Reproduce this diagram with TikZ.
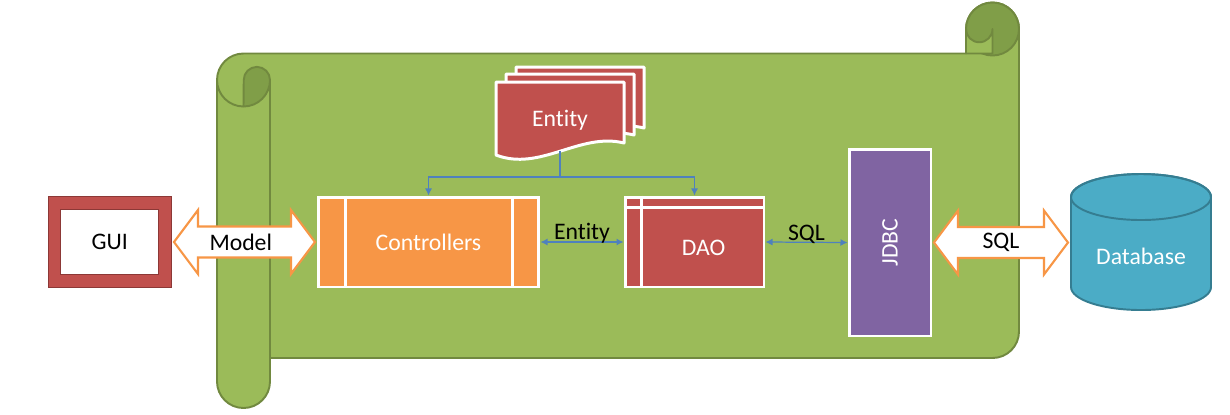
\documentclass[tikz,border=0pt]{standalone}
\usepackage{fontspec}
\setmainfont{Carlito}[Ligatures=NoCommon]
\usetikzlibrary{arrows.meta,calc}
\definecolor{ScrollFill}{HTML}{9BBB59}
\definecolor{ScrollDark}{HTML}{809E48}
\definecolor{ScrollLine}{HTML}{71893F}
\definecolor{AppRed}{HTML}{C0504D}
\definecolor{AppRedLine}{HTML}{8C3836}
\definecolor{AppOrange}{HTML}{F79646}
\definecolor{AppPurple}{HTML}{8064A2}
\definecolor{AppBlue}{HTML}{4BACC6}
\definecolor{AppBlueLine}{HTML}{357D91}
\definecolor{LinkBlue}{HTML}{4F81BD}

\tikzset{
  tag/.style={font=\fontsize{13.5}{16}\selectfont, inner sep=1pt},
  appbox/.style={draw=white, line width=1.7pt, minimum height=1.8cm, tag, text=white},
  divider/.style={draw=white, line width=1.7pt},
  scroll/.style={draw=ScrollLine, line width=1.1pt, line join=round},
  link/.style={draw=LinkBlue, line width=0.7pt},
  linktip/.style={link, {Latex[length=4pt,width=4pt]}-{Latex[length=4pt,width=4pt]}},
  fatline/.style={draw=AppOrange, fill=white, line width=1.2pt, line join=miter},
}
% wide two-headed arrow: tip point, shaft length
\newcommand\fatarrow[2]{%
  \path[fatline] #1 -- ++(24,-32) -- ++(0,16.5) -- ++(#2,0) -- ++(0,-16.5)
    -- ++(24,32) -- ++(-24,32) -- ++(0,-16.5) -- ++(-#2,0) -- ++(0,16.5) -- cycle;}

\begin{document}
\begin{tikzpicture}[x=0.02cm,y=-0.02cm]
\path[use as bounding box] (0,0) rectangle (1230,414);

% scroll
\path[scroll, fill=ScrollFill] (217,381.5) -- (217,80)
  arc[start angle=180, end angle=270, radius=26.5] -- (966,53.5) -- (966,29)
  arc[start angle=180, end angle=360, radius=26.5] -- (1019,331.5)
  arc[start angle=0, end angle=90, radius=26.5] -- (270,358) -- (270,381.5)
  arc[start angle=0, end angle=180, radius=26.5] -- cycle;
\path[scroll, fill=ScrollDark] (992.5,29) circle[radius=26.5];
\path[scroll, fill=ScrollFill] (966,29) arc[start angle=180, end angle=0, radius=13.25]
  -- (992.5,53.5) -- (966,53.5) -- cycle;
\path[scroll, fill=ScrollDark] (243.75,80) arc[start angle=180, end angle=360, radius=13.125]
  arc[start angle=0, end angle=90, radius=26.5] -- cycle;
\draw[scroll] (217,80) arc[start angle=180, end angle=90, radius=26.5];
\draw[scroll] (270,80) -- (270,358);

% entity sheets
\foreach \dx/\dy in {20/-15,10/-8,0/0}{
  \begin{scope}[shift={(\dx,\dy)}]
    \path[draw=white, line width=1.7pt, fill=AppRed, line join=round]
      (496,82) -- (624,82) -- (624,143) .. controls (580,132) and (540,172) .. (496,155) -- cycle;
  \end{scope}
}
\node[tag, text=white] (entity) at (560,120) {Entity};
\coordinate (entfoot) at (560,151);
\coordinate (split) at (560,177);

% boxes
\node[appbox, fill=AppOrange, minimum width=4.42cm] (ctrl) at (428.5,242) {Controllers};
\draw[divider] ([shift={(29,0)}]ctrl.north west) -- ([shift={(29,0)}]ctrl.south west);
\draw[divider] ([shift={(-28,0)}]ctrl.north east) -- ([shift={(-28,0)}]ctrl.south east);

\node[appbox, fill=AppRed, minimum width=2.78cm] (dao) at (694.5,242) {};
\draw[divider] ([shift={(18,0)}]dao.north west) -- ([shift={(18,0)}]dao.south west);
\draw[divider] ([shift={(0,12)}]dao.north west) -- ([shift={(0,12)}]dao.north east);
\node[tag, text=white] (daotxt) at ([shift={(9,6)}]dao.center) {DAO};

\node[appbox, fill=AppPurple, minimum width=1.64cm, minimum height=3.74cm] (jdbc) at (890,242.5) {};
\node[tag, text=white, rotate=90] (jdbctxt) at (jdbc.center) {JDBC};

\node[tag, draw=AppRed, line width=7pt, outer sep=0pt, fill=white,
  minimum width=2.21cm, minimum height=1.56cm] (gui) at (109.75,242) {GUI};
\draw[AppRedLine, line width=0.6pt] ([shift={(-6.2,-6.2)}]gui.north west) rectangle ([shift={(6.2,6.2)}]gui.south east);
\draw[AppRedLine, line width=0.6pt] ([shift={(6.2,6.2)}]gui.north west) rectangle ([shift={(-6.2,-6.2)}]gui.south east);

% database
\path[draw=AppBlueLine, line width=1.1pt, fill=AppBlue] (1071,197) -- (1071,287)
  arc[start angle=180, end angle=0, x radius=70, y radius=23] -- (1211,197)
  arc[start angle=0, end angle=-180, x radius=70, y radius=23] -- cycle;
\draw[AppBlueLine, line width=1.1pt] (1141,197) ellipse[x radius=70, y radius=23];
\node[tag, text=white] (db) at (1141,256) {Database};

% connectors
\draw[link] (entfoot) -- (split);
\draw[link, -{Latex[length=4pt,width=4pt]}] (split) -| (ctrl.north);
\draw[link, -{Latex[length=4pt,width=4pt]}] (split) -| (dao.north);
\draw[linktip] (ctrl.east) -- (dao.west) node[tag, midway, anchor=base, yshift=1.2pt] (enttag) {Entity};
\draw[linktip] (dao.east) -- (jdbc.west) node[tag, midway, anchor=base, yshift=1.2pt] (sqltag) {SQL};

\fatarrow{([shift={(9,0)}]gui.east)}{93}
\node[tag] (model) at ($(gui.east)!0.5!(ctrl.west)$) {Model};
\fatarrow{([shift={(1.5,0)}]jdbc.east)}{86}
\node[tag] (sql) at (1001,242) {SQL};
\end{tikzpicture}
\end{document}
